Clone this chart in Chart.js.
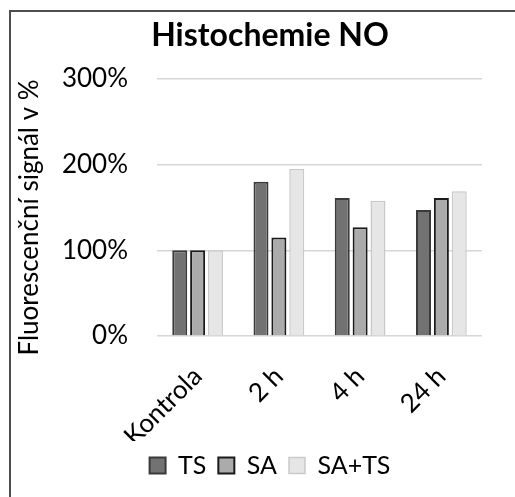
<!DOCTYPE html>
<html>
<head>
<meta charset="utf-8">
<script src="https://cdn.jsdelivr.net/npm/chart.js@4.4.1/dist/chart.umd.min.js"></script>
<style>
  html, body { margin: 0; padding: 0; background: #fff; }
  #wrap { position: relative; width: 515px; height: 497px; }
  canvas { position: absolute; left: 0; top: 0; }
</style>
</head>
<body>
<div id="wrap"><canvas id="c" width="515" height="497"></canvas></div>
<script>
const categories = ['Kontrola', '2 h', '4 h', '24 h'];
const seriesNames = ['TS', 'SA', 'SA+TS'];
const valuesTS = [100, 180, 161, 147];
const valuesSA = [100, 115, 127, 161];
const valuesSATS = [100, 195, 158, 169];
const yTicks = [0, 100, 200, 300];
const yAxisTitle = 'Fluorescenční signál v %';

const FONT = 'Lato, "Open Sans", sans-serif';

// frame along the top and left edge, plus the rotated value-axis title
const decorPlugin = {
  id: 'decor',
  beforeDraw(chart) {
    const ctx = chart.ctx;
    ctx.save();
    ctx.fillStyle = '#4d4d4d';
    ctx.fillRect(9, 10, 2, 497);
    ctx.fillRect(9, 10, 506, 2);
    ctx.restore();
  },
  afterDraw(chart) {
    const ctx = chart.ctx;
    const area = chart.chartArea;
    ctx.save();
    ctx.translate(30, (area.top + area.bottom) / 2 + 10);
    ctx.rotate(-Math.PI / 2);
    ctx.font = '26px ' + FONT;
    ctx.fillStyle = '#000';
    ctx.textAlign = 'center';
    ctx.textBaseline = 'middle';
    ctx.fillText(yAxisTitle, 0, 0);
    ctx.restore();
  }
};

new Chart(document.getElementById('c'), {
  type: 'bar',
  data: {
    labels: categories,
    datasets: [
      { label: seriesNames[0], data: valuesTS, backgroundColor: '#727272', borderColor: '#3a3a3a', borderWidth: 2 },
      { label: seriesNames[1], data: valuesSA, backgroundColor: '#ababab', borderColor: '#1a1a1a', borderWidth: 2 },
      { label: seriesNames[2], data: valuesSATS, backgroundColor: '#e6e6e6', borderColor: '#c9c9c9', borderWidth: 1.5 }
    ]
  },
  options: {
    responsive: false,
    animation: false,
    devicePixelRatio: 1,
    layout: { padding: { left: 58, right: 33, top: 6, bottom: 9 } },
    datasets: { bar: { categoryPercentage: 0.66, barPercentage: 0.84 } },
    plugins: {
      title: {
        display: true,
        text: 'Histochemie NO',
        color: '#000',
        font: { family: FONT, size: 32, weight: 'bold' },
        padding: { top: 10, bottom: 24.6 }
      },
      legend: {
        position: 'bottom',
        labels: {
          color: '#000',
          font: { family: FONT, size: 25 },
          boxWidth: 16,
          boxHeight: 16,
          padding: 12
        }
      },
      tooltip: { enabled: false }
    },
    scales: {
      x: {
        grid: { display: false },
        border: { display: false },
        ticks: {
          color: '#000',
          font: { family: FONT, size: 26 },
          minRotation: 45,
          maxRotation: 45,
          padding: 17
        },
        afterFit(scale) { scale.height = 105; }
      },
      y: {
        min: 0,
        max: 300,
        afterBuildTicks(scale) { scale.ticks = yTicks.map(v => ({ value: v })); },
        grid: { color: '#d6d6d6', lineWidth: 1.5, drawTicks: false },
        border: { display: false },
        ticks: {
          color: '#000',
          font: { family: FONT, size: 26 },
          padding: 29,
          callback: v => v + '%'
        },
        afterFit(scale) { scale.width = 99; }
      }
    }
  },
  plugins: [decorPlugin]
});
</script>
</body>
</html>
